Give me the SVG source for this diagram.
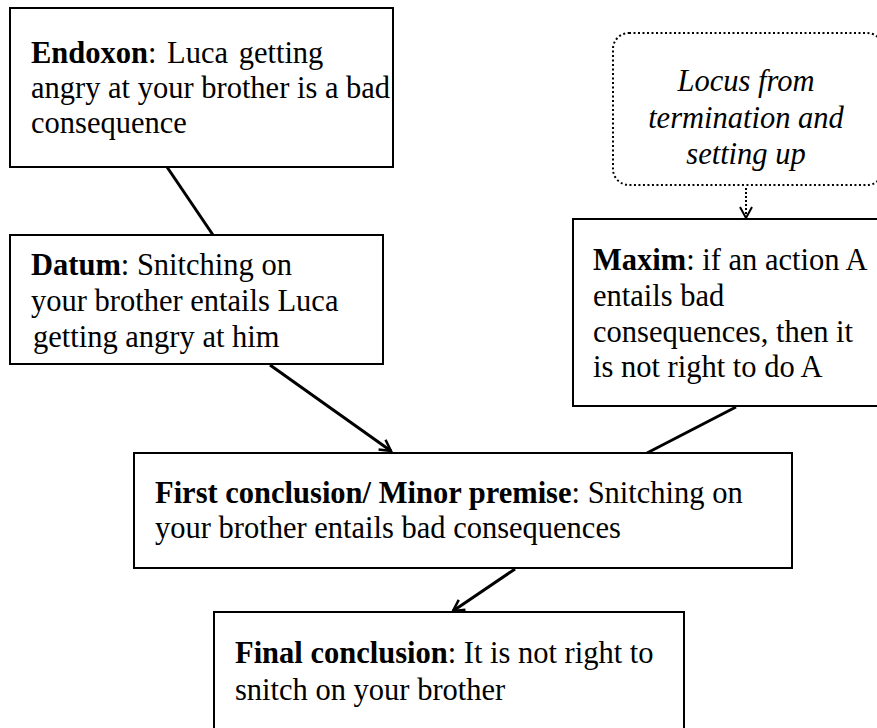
<svg xmlns="http://www.w3.org/2000/svg" width="877" height="728" viewBox="0 0 877 728">
<defs>
<style>
.box{fill:#fff;stroke:#000;stroke-width:2}
.dot{fill:#fff;stroke:#000;stroke-width:2;stroke-dasharray:2 2.5}
.t{font-family:"Liberation Serif","Times New Roman",Times,serif;font-size:30.5px;fill:#000}
.b{font-weight:bold}
.i{font-style:italic}
.c{fill:none;stroke:#000;stroke-width:3}
.cd{fill:none;stroke:#000;stroke-width:2;stroke-dasharray:2 2}
</style>
<marker id="arr" markerWidth="14" markerHeight="14" refX="12" refY="7" orient="auto" markerUnits="userSpaceOnUse">
<path d="M1,1 L12,7 L1,13" fill="none" stroke="#000" stroke-width="2.5"/>
</marker>
<marker id="arrd" markerWidth="14" markerHeight="14" refX="12" refY="7" orient="auto" markerUnits="userSpaceOnUse">
<path d="M1,1 L12,7 L1,13" fill="none" stroke="#000" stroke-width="2"/>
</marker>
</defs>
<rect width="877" height="728" fill="#fff"/>
<g id="connectors">
<line class="c" x1="167" y1="167" x2="213" y2="235"/>
<line class="c" x1="270" y1="365" x2="391" y2="451" marker-end="url(#arr)"/>
<line class="c" x1="736" y1="407" x2="647" y2="453"/>
<line class="c" x1="515" y1="569" x2="453" y2="611" marker-end="url(#arr)"/>
<line class="cd" x1="746" y1="188" x2="746" y2="218" marker-end="url(#arrd)"/>
</g>
<g id="endoxon">
<rect class="box" x="10" y="8" width="383" height="159"/>
<text class="t" x="31" y="63" word-spacing="3"><tspan class="b">Endoxon</tspan>: Luca getting</text>
<text class="t" x="31" y="98">angry at your brother is a bad</text>
<text class="t" x="31" y="133">consequence</text>
</g>
<g id="datum">
<rect class="box" x="10" y="235" width="373" height="129"/>
<text class="t" x="31" y="275"><tspan class="b">Datum</tspan>: Snitching on</text>
<text class="t" x="31" y="311">your brother entails Luca</text>
<text class="t" x="33" y="347">getting angry at him</text>
</g>
<g id="locus">
<rect class="dot" x="613" y="33" width="270" height="152" rx="16" ry="16"/>
<text class="t i" x="746" y="91" text-anchor="middle">Locus from</text>
<text class="t i" x="746" y="128" text-anchor="middle">termination and</text>
<text class="t i" x="746" y="164" text-anchor="middle">setting up</text>
</g>
<g id="maxim">
<rect class="box" x="573" y="219" width="310" height="187"/>
<text class="t" x="593" y="270"><tspan class="b">Maxim</tspan>: if an action A</text>
<text class="t" x="593" y="306">entails bad</text>
<text class="t" x="593" y="342">consequences, then it</text>
<text class="t" x="593" y="377">is not right to do A</text>
</g>
<g id="first">
<rect class="box" x="134" y="453" width="658" height="115"/>
<text class="t" x="155" y="503"><tspan class="b">First conclusion/ Minor premise</tspan>: Snitching on</text>
<text class="t" x="155" y="538">your brother entails bad consequences</text>
</g>
<g id="final">
<rect class="box" x="214" y="612" width="470" height="130"/>
<text class="t" x="235" y="663"><tspan class="b">Final conclusion</tspan>: It is not right to</text>
<text class="t" x="235" y="700">snitch on your brother</text>
</g>
</svg>
